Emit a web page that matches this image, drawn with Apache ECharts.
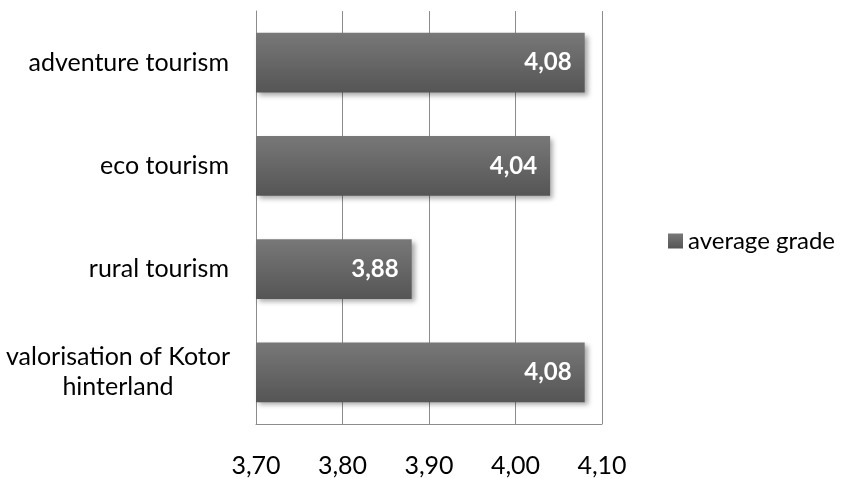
<!DOCTYPE html>
<html>
<head>
<meta charset="utf-8">
<script src="https://cdn.jsdelivr.net/npm/echarts@6/dist/echarts.min.js"></script>
<style>
  html, body { margin: 0; padding: 0; background: #ffffff; }
  #chart { width: 844px; height: 478px; }
</style>
</head>
<body>
<div id="chart"></div>
<script>
// Survey categories, listed bottom to top as the y axis draws them
const categories = ['valorisation of Kotor\nhinterland', 'rural tourism', 'eco tourism', 'adventure tourism'];
const averageGrade = [4.08, 3.88, 4.04, 4.08];
const seriesName = 'average grade';
const axisMin = 3.7;
const axisMax = 4.1;
const axisStep = 0.1;

const FONT = 'Lato, "Open Sans", sans-serif';
const fmt = v => v.toFixed(2).replace('.', ',');

const chart = echarts.init(document.getElementById('chart'), null, { renderer: 'canvas' });

chart.setOption({
  animation: false,
  backgroundColor: '#ffffff',
  grid: { left: 256, right: 242, top: 11, bottom: 46, containLabel: false },
  legend: {
    data: [seriesName],
    orient: 'vertical',
    left: 668,
    top: 229,
    padding: 0,
    icon: 'rect',
    itemWidth: 15,
    itemHeight: 15,
    itemGap: 0,
    textStyle: { fontFamily: FONT, fontSize: 24, color: '#000000' }
  },
  xAxis: {
    type: 'value',
    min: axisMin,
    max: axisMax,
    interval: axisStep,
    axisLine: { show: true, lineStyle: { color: '#8c8c8c', width: 1 } },
    axisTick: { show: false },
    splitLine: { show: true, lineStyle: { color: '#8c8c8c', width: 1 } },
    axisLabel: {
      margin: 29,
      fontFamily: FONT,
      fontSize: 25,
      color: '#000000',
      formatter: v => fmt(v)
    }
  },
  yAxis: {
    type: 'category',
    data: categories,
    axisLine: { show: true, lineStyle: { color: '#8c8c8c', width: 1 } },
    axisTick: { show: false },
    splitLine: { show: false },
    axisLabel: {
      margin: 27,
      fontFamily: FONT,
      fontSize: 25,
      color: '#000000',
      lineHeight: 30,
      // multi-line names are centred as a block; single lines stay right-aligned
      formatter: v => v.indexOf('\n') < 0 ? v : v.split('\n').map(l => '{c|' + l + '}').join('\n'),
      rich: {
        c: { fontFamily: FONT, fontSize: 25, color: '#000000', lineHeight: 30, width: 222, align: 'center' }
      }
    }
  },
  series: [{
    name: seriesName,
    type: 'bar',
    data: averageGrade,
    barCategoryGap: '42%',
    itemStyle: {
      color: new echarts.graphic.LinearGradient(0, 0, 0, 1, [
        { offset: 0, color: '#787878' },
        { offset: 1, color: '#555555' }
      ]),
      shadowColor: 'rgba(0,0,0,0.35)',
      shadowBlur: 5,
      shadowOffsetX: 3,
      shadowOffsetY: 3
    },
    label: {
      show: true,
      position: 'insideRight',
      distance: 13,
      fontFamily: FONT,
      fontSize: 24,
      fontWeight: 'bold',
      color: '#ffffff',
      formatter: p => fmt(p.value)
    }
  }]
});
</script>
</body>
</html>
